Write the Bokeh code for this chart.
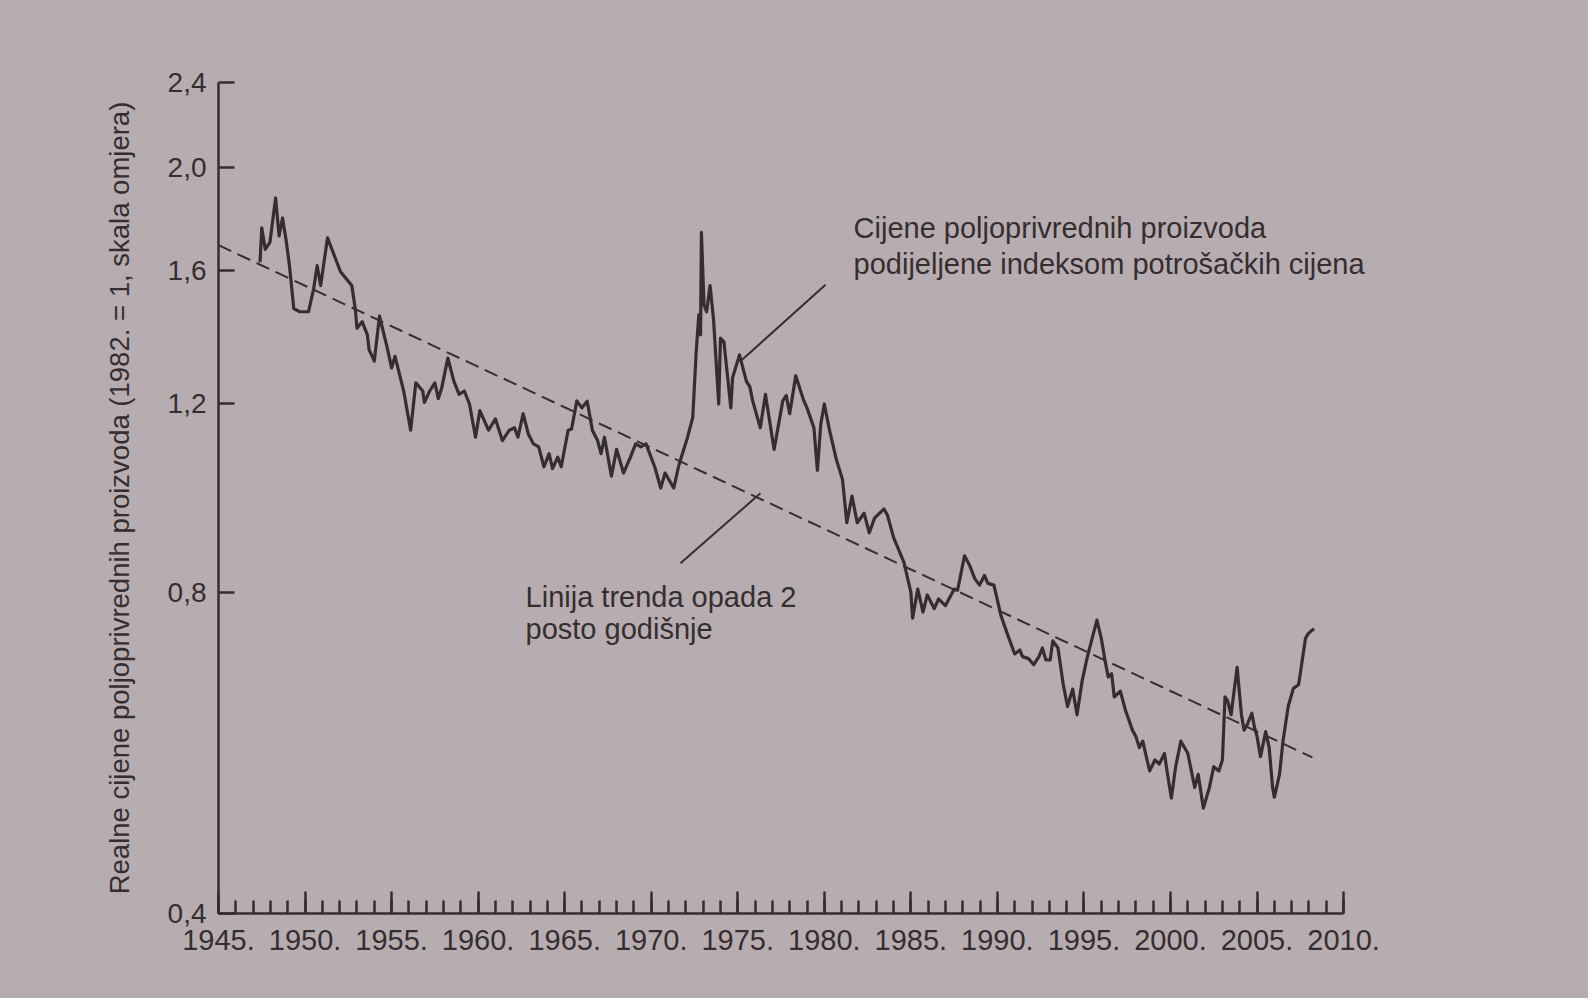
from bokeh.plotting import figure
from bokeh.models import FixedTicker, CustomJSTickFormatter, Label, Range1d
from bokeh.embed import file_html
from bokeh.resources import INLINE

# ---- data (ratio scale, 1982 = 1) ----
years = [
    1947.4, 1947.5, 1947.7, 1947.97, 1948.3, 1948.5, 1948.7, 1948.9, 1949.1, 1949.35,
    1949.7, 1950.2, 1950.5, 1950.7, 1950.9, 1951.3, 1951.7, 1952.05, 1952.7, 1952.9,
    1953.0, 1953.3, 1953.6, 1953.7, 1954.0, 1954.3, 1954.75, 1955.0, 1955.2, 1955.7,
    1956.1, 1956.4, 1956.8, 1956.9, 1957.2, 1957.5, 1957.7, 1957.9, 1958.25, 1958.6,
    1958.9, 1959.2, 1959.5, 1959.85, 1960.1, 1960.6, 1961.0, 1961.4, 1961.8, 1962.1,
    1962.3, 1962.6, 1962.9, 1963.2, 1963.5, 1963.8, 1964.1, 1964.3, 1964.6, 1964.8,
    1965.2, 1965.4, 1965.7, 1966.0, 1966.3, 1966.6, 1966.9, 1967.1, 1967.3, 1967.7,
    1968.0, 1968.4, 1968.8, 1969.1, 1969.4, 1969.7, 1970.2, 1970.55, 1970.8, 1971.3,
    1971.6, 1972.1, 1972.4, 1972.6, 1972.75, 1972.85, 1972.9, 1973.05, 1973.2, 1973.4,
    1973.6, 1973.9, 1974.0, 1974.2, 1974.6, 1974.7, 1975.1, 1975.5, 1975.7, 1975.85,
    1976.3, 1976.6, 1977.1, 1977.6, 1977.8, 1978.0, 1978.35, 1978.8, 1979.0, 1979.4,
    1979.6, 1979.8, 1980.0, 1980.3, 1980.7, 1981.05, 1981.3, 1981.6, 1981.9, 1982.3,
    1982.6, 1982.9, 1983.45, 1983.65, 1984.0, 1984.6, 1985.0, 1985.1, 1985.4, 1985.7,
    1985.95, 1986.35, 1986.6, 1987.0, 1987.5, 1987.7, 1988.1, 1988.4, 1988.7, 1988.97,
    1989.25, 1989.45, 1989.8, 1990.2, 1990.6, 1991.0, 1991.3, 1991.45, 1991.8, 1992.1,
    1992.4, 1992.6, 1992.8, 1993.05, 1993.2, 1993.5, 1993.8, 1994.05, 1994.35, 1994.6,
    1994.9, 1995.2, 1995.75, 1996.0, 1996.2, 1996.4, 1996.6, 1996.75, 1997.1, 1997.4,
    1997.8, 1998.0, 1998.2, 1998.4, 1998.6, 1998.8, 1999.1, 1999.35, 1999.65, 1999.8,
    2000.05, 2000.3, 2000.6, 2001.0, 2001.4, 2001.6, 2001.9, 2002.25, 2002.5, 2002.8,
    2003.0, 2003.15, 2003.3, 2003.5, 2003.85, 2004.1, 2004.25, 2004.45, 2004.7, 2004.85,
    2005.0, 2005.2, 2005.5, 2005.7, 2005.9, 2006.0, 2006.3, 2006.5, 2006.8, 2007.1,
    2007.4, 2007.5, 2007.8, 2007.95, 2008.1, 2008.3,
]
values = [
    1.629, 1.754, 1.675, 1.700, 1.871, 1.724, 1.792, 1.711, 1.617, 1.474,
    1.464, 1.464, 1.539, 1.617, 1.549, 1.717, 1.651, 1.596, 1.549, 1.474,
    1.413, 1.433, 1.393, 1.349, 1.316, 1.450, 1.354, 1.297, 1.330, 1.234,
    1.134, 1.256, 1.234, 1.204, 1.234, 1.256, 1.214, 1.243, 1.325, 1.260,
    1.225, 1.234, 1.200, 1.117, 1.183, 1.134, 1.162, 1.109, 1.134, 1.140,
    1.117, 1.175, 1.125, 1.101, 1.094, 1.048, 1.078, 1.044, 1.070, 1.048,
    1.134, 1.137, 1.208, 1.190, 1.207, 1.134, 1.109, 1.078, 1.117, 1.027,
    1.088, 1.034, 1.070, 1.101, 1.094, 1.101, 1.048, 1.001, 1.034, 1.001,
    1.052, 1.117, 1.166, 1.344, 1.454, 1.393, 1.737, 1.485, 1.464, 1.549,
    1.440, 1.200, 1.383, 1.372, 1.190, 1.270, 1.334, 1.260, 1.245, 1.210,
    1.140, 1.225, 1.088, 1.208, 1.222, 1.175, 1.275, 1.210, 1.190, 1.140,
    1.040, 1.150, 1.200, 1.134, 1.064, 1.020, 0.929, 0.984, 0.929, 0.948,
    0.909, 0.938, 0.957, 0.944, 0.900, 0.853, 0.800, 0.756, 0.805, 0.766,
    0.795, 0.772, 0.788, 0.777, 0.805, 0.803, 0.865, 0.847, 0.823, 0.812,
    0.829, 0.815, 0.812, 0.761, 0.729, 0.700, 0.706, 0.696, 0.693, 0.684,
    0.696, 0.709, 0.691, 0.691, 0.720, 0.709, 0.656, 0.625, 0.649, 0.614,
    0.661, 0.696, 0.753, 0.724, 0.693, 0.666, 0.671, 0.638, 0.646, 0.620,
    0.594, 0.586, 0.572, 0.580, 0.561, 0.544, 0.557, 0.552, 0.565, 0.544,
    0.513, 0.549, 0.580, 0.565, 0.525, 0.540, 0.502, 0.525, 0.549, 0.544,
    0.557, 0.638, 0.633, 0.614, 0.680, 0.614, 0.594, 0.602, 0.616, 0.598,
    0.586, 0.561, 0.592, 0.572, 0.525, 0.514, 0.540, 0.580, 0.625, 0.650,
    0.655, 0.671, 0.724, 0.731, 0.735, 0.739,
]
trend_years = [1945.0, 2008.2]
trend_values = [1.69, 0.56]

y_ticks = [0.4, 0.8, 1.2, 1.6, 2.0, 2.4]
x_major_ticks = list(range(1945, 2011, 5))
x_minor_ticks = list(range(1945, 2011))

y_label = "Realne cijene poljoprivrednih proizvoda (1982. = 1, skala omjera)"
note_price = ["Cijene poljoprivrednih proizvoda", "podijeljene indeksom potrošačkih cijena"]
note_trend = ["Linija trenda opada 2", "posto godišnje"]

# ---- styling ----
BG = "#b7adb0"
INK = "#352e30"
FONT = "Liberation Sans"

# x range reaches a little past 2010 so the annotation text is not clipped;
# the axis itself is bounded to 1945-2010
p = figure(width=1588, height=998,
           x_range=Range1d(1945, 2013), y_range=Range1d(0.4, 2.4),
           y_axis_type="log", output_backend="svg", toolbar_location=None,
           min_border_left=218, min_border_right=193,
           min_border_top=82, min_border_bottom=85)
# one flat page colour behind the whole canvas (no seam at the frame edge)
p.styles = {"background-color": BG}
p.background_fill_color = None
p.border_fill_color = None
p.outline_line_color = None
p.xgrid.visible = False
p.ygrid.visible = False

# y axis
ya = p.yaxis[0]
ya.ticker = FixedTicker(ticks=y_ticks)
ya.formatter = CustomJSTickFormatter(code="return tick.toFixed(1).replace('.', ',');")
ya.major_tick_in = 16
ya.major_tick_out = 0
ya.minor_tick_in = 0
ya.minor_tick_out = 0
ya.axis_line_color = INK
ya.axis_line_width = 2.5
ya.major_tick_line_color = INK
ya.major_tick_line_width = 2.5
ya.major_label_text_font = FONT
ya.major_label_text_font_size = "28px"
ya.major_label_text_color = INK
ya.major_label_standoff = 12
ya.axis_label = y_label
ya.axis_label_text_font = FONT
ya.axis_label_text_font_style = "normal"
ya.axis_label_text_font_size = "27.5px"
ya.axis_label_text_color = INK
ya.axis_label_standoff = 30

# x axis
xa = p.xaxis[0]
xa.bounds = (1945, 2010)
xa.ticker = FixedTicker(ticks=x_major_ticks, minor_ticks=x_minor_ticks)
xa.formatter = CustomJSTickFormatter(code="return tick.toFixed(0) + '.';")
xa.major_tick_in = 22
xa.major_tick_out = 0
xa.minor_tick_in = 13
xa.minor_tick_out = 0
xa.axis_line_color = INK
xa.axis_line_width = 2.5
xa.major_tick_line_color = INK
xa.major_tick_line_width = 2.5
xa.minor_tick_line_color = INK
xa.minor_tick_line_width = 2.5
xa.major_label_text_font = FONT
xa.major_label_text_font_size = "29px"
xa.major_label_text_color = INK
xa.major_label_standoff = 16

# series
p.line(trend_years, trend_values, line_color=INK, line_width=2, line_dash="14 7")
p.line(years, values, line_color=INK, line_width=3.2, line_join="round")

# annotations: leader lines
p.line([1980.07, 1975.25], [1.552, 1.32], line_color=INK, line_width=2)
p.line([1976.31, 1971.69], [0.99, 0.851], line_color=INK, line_width=2)

for txt, yy in zip(note_price, [1.752, 1.624]):
    p.add_layout(Label(x=1981.69, y=yy, text=txt, text_font=FONT, text_font_size="29px",
                       text_color=INK, text_baseline="alphabetic"))
for txt, yy in zip(note_trend, [0.791, 0.738]):
    p.add_layout(Label(x=1962.74, y=yy, text=txt, text_font=FONT, text_font_size="29px",
                       text_color=INK, text_baseline="alphabetic"))

open("out.html", "w").write(file_html(p, INLINE))
